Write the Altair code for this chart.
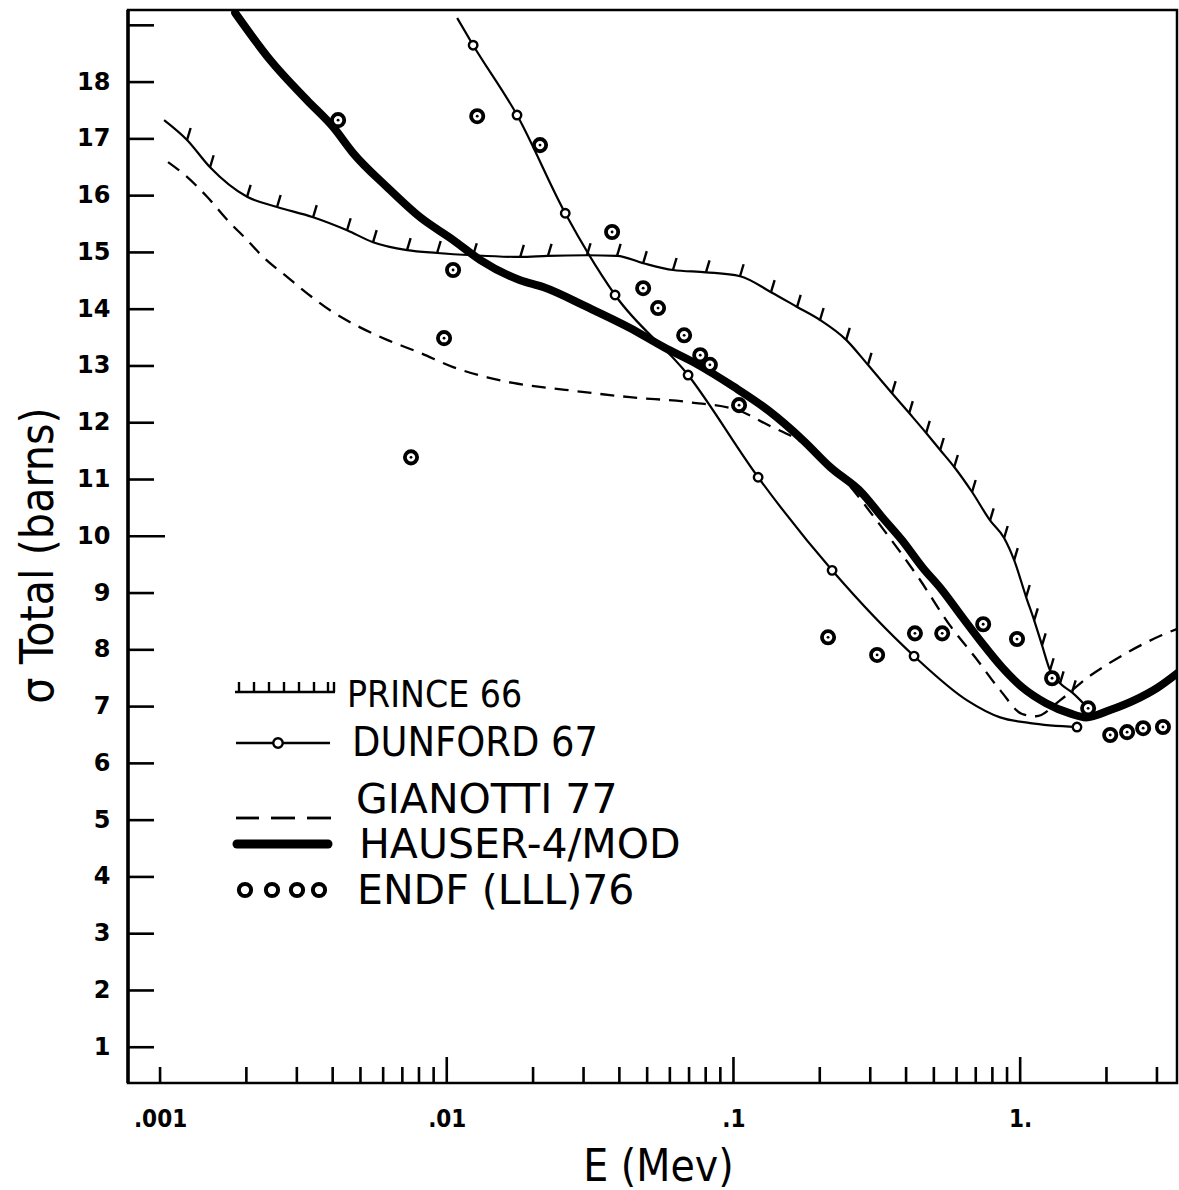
import altair as alt
import pandas as pd

# ---------------- data ----------------
prince_E = [0.001033, 0.001242, 0.001494, 0.002011, 0.002559, 0.003419, 0.004490, 0.005533, 0.007268, 0.009253,
            0.01236, 0.01804, 0.02254, 0.03083, 0.03926, 0.04842, 0.06151, 0.08017, 0.1054, 0.1352,
            0.1667, 0.2004, 0.2472, 0.2944, 0.3573, 0.4101, 0.4700, 0.5260, 0.5888, 0.6796,
            0.7852, 0.8790, 0.9528, 1.049, 1.119, 1.192, 1.271, 1.377, 1.517, 1.754]
prince_s = [17.33, 16.98, 16.50, 15.98, 15.80, 15.62, 15.39, 15.18, 15.04, 14.99,
            14.95, 14.92, 14.94, 14.95, 14.94, 14.81, 14.69, 14.65, 14.58, 14.30,
            14.04, 13.81, 13.46, 13.02, 12.52, 12.17, 11.82, 11.52, 11.22, 10.78,
            10.28, 9.97, 9.58, 8.93, 8.52, 8.08, 7.64, 7.41, 7.25, 6.93]

dunford_E = [0.01087, 0.01236, 0.01758, 0.02590, 0.03864, 0.06946, 0.1219, 0.2208, 0.4265,
             0.6531, 0.8515, 1.084, 1.578]
dunford_s = [19.13, 18.65, 17.42, 15.69, 14.25, 12.84, 11.04, 9.40, 7.89,
             7.11, 6.81, 6.71, 6.64]
dunford_marked = [0, 1, 1, 1, 1, 1, 1, 1, 1, 0, 0, 0, 1]

gianotti_E = [0.001066, 0.001242, 0.001459, 0.001755, 0.002011, 0.002287, 0.002773, 0.003257, 0.003917, 0.004985,
              0.006192, 0.008071, 0.01052, 0.01383, 0.01702, 0.02590, 0.04355, 0.07063, 0.1038, 0.1321,
              0.1750, 0.2355, 0.3243, 0.4477, 0.5689, 0.6966, 0.8515, 1.016, 1.136, 1.377,
              1.726, 1.994, 2.417, 3.126, 3.76]
gianotti_s = [16.59, 16.33, 15.98, 15.52, 15.22, 14.92, 14.57, 14.28, 13.98, 13.68,
              13.46, 13.23, 12.98, 12.80, 12.70, 12.58, 12.45, 12.36, 12.22, 11.96,
              11.64, 11.08, 10.20, 9.23, 8.43, 7.87, 7.29, 6.87, 6.83, 7.11,
              7.52, 7.73, 7.98, 8.26, 8.42]

hauser_E = [0.001828, 0.002421, 0.003257, 0.004012, 0.004713, 0.006192, 0.008071, 0.01052, 0.01306, 0.01804,
            0.02168, 0.03083, 0.04355, 0.05723, 0.07345, 0.1005, 0.1321, 0.1750, 0.2173, 0.2812,
            0.3296, 0.3873, 0.4550, 0.5346, 0.6273, 0.7362, 0.8650, 1.016, 1.231, 1.493,
            1.698, 2.061, 2.496, 3.027, 3.60]
hauser_s = [19.22, 18.39, 17.68, 17.21, 16.75, 16.15, 15.62, 15.22, 14.87, 14.51,
            14.39, 14.04, 13.67, 13.33, 13.05, 12.63, 12.22, 11.69, 11.22, 10.76,
            10.34, 9.93, 9.46, 9.05, 8.58, 8.12, 7.69, 7.34, 7.06, 6.88,
            6.81, 6.94, 7.11, 7.34, 7.62]

endf_E = [0.004178, 0.01277, 0.02115, 0.01052, 0.009786, 0.007504, 0.03773, 0.04842, 0.05458, 0.06730,
          0.07658, 0.08275, 0.1046, 0.2138, 0.3170, 0.4295, 0.5346, 0.7430, 0.9750, 1.292,
          1.726, 2.061, 2.360, 2.685, 3.148]
endf_s = [17.33, 17.40, 16.89, 14.69, 13.49, 11.39, 15.36, 14.37, 14.02, 13.54,
          13.19, 13.02, 12.31, 8.22, 7.91, 8.29, 8.29, 8.45, 8.19, 7.50,
          6.97, 6.50, 6.55, 6.62, 6.64]

y_tick_values = list(range(1, 20))
y_label_values = list(range(1, 19))
x_major_ticks = [0.01, 0.1, 1]
x_minor_ticks = [0.001, 0.002, 0.003, 0.004, 0.005, 0.006, 0.007, 0.008, 0.009,
                 0.02, 0.03, 0.04, 0.05, 0.06, 0.07, 0.08, 0.09,
                 0.2, 0.3, 0.4, 0.5, 0.6, 0.7, 0.8, 0.9, 2, 3]
x_label_values = [0.001, 0.01, 0.1, 1]

legend_names = ["PRINCE 66", "DUNFORD 67", "GIANOTTI 77", "HAUSER-4/MOD", "ENDF (LLL)76"]

# ---------------- chart ----------------
W, H = 1049, 1073
xs = alt.Scale(type="log", domain=[0.000773, 3.524], nice=False)
ys = alt.Scale(domain=[0.37, 19.27], nice=False, zero=False)
FONT = "DejaVu Sans"
CFONT = "DejaVu Sans Condensed"

prince = pd.DataFrame({"E": prince_E, "s": prince_s})
hatch = prince.iloc[1:-1]
dunford = pd.DataFrame({"E": dunford_E, "s": dunford_s, "m": dunford_marked})
dunford_pts = dunford[dunford["m"] == 1]
gianotti = pd.DataFrame({"E": gianotti_E, "s": gianotti_s})
hauser = pd.DataFrame({"E": hauser_E, "s": hauser_s})
endf = pd.DataFrame({"E": endf_E, "s": endf_s})
dummy = pd.DataFrame({"a": [0]})

x_axis = alt.Axis(values=x_label_values,
                  labelExpr="datum.value < 0.005 ? '.001' : datum.value < 0.05 ? '.01' : datum.value < 0.5 ? '.1' : '1.'",
                  ticks=False, domain=False, grid=False,
                  labelFont=CFONT, labelFontSize=24, labelFontWeight="bold", labelPadding=24,
                  labelColor="black",
                  title="E (Mev)", titleFont=CFONT, titleFontSize=44, titleFontWeight="normal",
                  titleColor="black", titleX=530, titleY=84, titleBaseline="middle")
y_axis = alt.Axis(values=y_label_values, ticks=False, domain=False, grid=False,
                  labelFont=FONT, labelFontSize=24, labelFontWeight="bold", labelPadding=18,
                  labelColor="black",
                  title="σ Total (barns)", titleFont=CFONT, titleFontSize=46, titleFontWeight="normal",
                  titleColor="black", titleX=-90, titleY=545, titleBaseline="middle",
                  titleAlign="center", titleAngle=270)


def enc():
    return dict(x=alt.X("E:Q", scale=xs, axis=x_axis), y=alt.Y("s:Q", scale=ys, axis=y_axis))


# axis ticks drawn inside the frame
ytk = pd.DataFrame({"s": [v for v in y_tick_values if v != 10]})
ytk10 = pd.DataFrame({"s": [10]})
y_ticks = alt.Chart(ytk).mark_rule(color="black", strokeWidth=2.6).encode(
    y=alt.Y("s:Q", scale=ys, axis=y_axis), x=alt.value(0), x2=alt.value(26))
y_tick10 = alt.Chart(ytk10).mark_rule(color="black", strokeWidth=2.6).encode(
    y=alt.Y("s:Q", scale=ys, axis=y_axis), x=alt.value(0), x2=alt.value(37))
x_min = alt.Chart(pd.DataFrame({"E": x_minor_ticks})).mark_rule(color="black", strokeWidth=2.6).encode(
    x=alt.X("E:Q", scale=xs, axis=x_axis), y=alt.value(H), y2=alt.value(H - 16))
x_maj = alt.Chart(pd.DataFrame({"E": x_major_ticks})).mark_rule(color="black", strokeWidth=2.6).encode(
    x=alt.X("E:Q", scale=xs, axis=x_axis), y=alt.value(H), y2=alt.value(H - 26))
left_edge = alt.Chart(dummy).mark_rule(color="black", strokeWidth=3.5).encode(
    x=alt.value(0), y=alt.value(0), y2=alt.value(H))

prince_line = alt.Chart(prince).mark_line(color="black", strokeWidth=2.2, interpolate="monotone",
                                          clip=True).encode(**enc())
prince_hatch = alt.Chart(hatch).mark_point(shape="M0,0L0.3,-1", size=576, filled=False,
                                           color="black", strokeWidth=2.4, opacity=1, clip=True).encode(**enc())
gianotti_line = alt.Chart(gianotti).mark_line(color="black", strokeWidth=2.3, strokeDash=[14, 9],
                                              interpolate="monotone", clip=True).encode(**enc())
dunford_line = alt.Chart(dunford).mark_line(color="black", strokeWidth=2.2, interpolate="monotone",
                                            clip=True).encode(**enc())
hauser_line = alt.Chart(hauser).mark_line(color="black", strokeWidth=8, strokeCap="round",
                                          strokeJoin="round", interpolate="monotone",
                                          clip=True).encode(**enc())
dunford_circ = alt.Chart(dunford_pts).mark_point(shape="circle", size=72, filled=True, fill="white",
                                                 stroke="black", strokeWidth=2.4, opacity=1,
                                                 clip=True).encode(**enc())
endf_circ = alt.Chart(endf).mark_point(shape="circle", size=150, filled=True, fill="white",
                                       stroke="black", strokeWidth=3.8, opacity=1, clip=True).encode(**enc())
endf_dot = alt.Chart(endf).mark_point(shape="circle", size=8, filled=True, color="black",
                                      opacity=1, clip=True).encode(**enc())


# ---------------- hand-drawn legend (inside the plot) ----------------
def lrule(x1, x2, y, **kw):
    return alt.Chart(dummy).mark_rule(color="black", **kw).encode(
        x=alt.value(x1), x2=alt.value(x2), y=alt.value(y))


def vrule(x, y1, y2, **kw):
    return alt.Chart(dummy).mark_rule(color="black", **kw).encode(
        x=alt.value(x), y=alt.value(y1), y2=alt.value(y2))


def ltext(t, x, y, font, size):
    return alt.Chart(dummy).mark_text(text=t, align="left", baseline="middle", font=font,
                                      fontSize=size, color="black").encode(
        x=alt.value(x), y=alt.value(y))


def lpoint(x, y, **kw):
    return alt.Chart(dummy).mark_point(shape="circle", opacity=1, **kw).encode(
        x=alt.value(x), y=alt.value(y))


legend = [
    lrule(107, 207, 682, strokeWidth=2.4),
    *[vrule(x, 682, 672, strokeWidth=2.4) for x in (111, 126, 141, 156, 171, 186, 200, 206)],
    ltext(legend_names[0], 219, 686, CFONT, 37),
    lrule(108, 202, 733, strokeWidth=2.4),
    lpoint(150, 733, size=90, filled=True, fill="white", stroke="black", strokeWidth=2.4),
    ltext(legend_names[1], 224, 734, CFONT, 41),
    lrule(108, 131, 808, strokeWidth=2.8),
    lrule(143, 167, 808, strokeWidth=2.8),
    lrule(179, 203, 808, strokeWidth=2.8),
    ltext(legend_names[2], 228, 791, FONT, 41),
    lrule(109, 200, 834, strokeWidth=9, strokeCap="round"),
    ltext(legend_names[3], 231, 836, FONT, 41),
    *[lpoint(x, 880, size=150, filled=True, fill="white", stroke="black", strokeWidth=4)
      for x in (117, 144, 169, 191)],
    ltext(legend_names[4], 229, 882, FONT, 41),
]

chart = alt.layer(
    hauser_line, y_ticks, y_tick10, x_min, x_maj, left_edge,
    prince_line, prince_hatch, gianotti_line, dunford_line,
    dunford_circ, endf_circ, endf_dot,
    *legend,
).properties(
    width=W, height=H,
    autosize=alt.AutoSizeParams(type="none"),
    padding={"left": 128, "top": 10, "right": 2, "bottom": 107},
    background="white",
).configure_view(stroke="black", strokeWidth=2.5)

chart.save("out.html", embed_options={"renderer": "svg", "actions": False})
